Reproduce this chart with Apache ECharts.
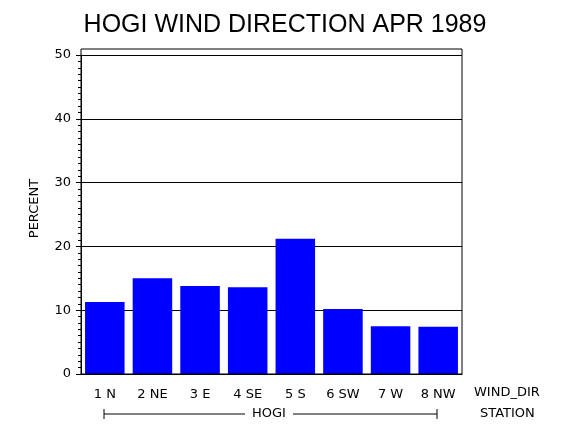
<!DOCTYPE html>
<html>
<head>
<meta charset="utf-8">
<script src="https://cdn.jsdelivr.net/npm/echarts@6/dist/echarts.min.js"></script>
<style>
  html, body { margin: 0; padding: 0; background: #fff; }
  #echart { width: 570px; height: 430px; }
</style>
</head>
<body>
<div id="echart"></div>
<script>
let echart = echarts.init(document.getElementById('echart'))

// 数据
let directions = ['1 N', '2 NE', '3 E', '4 SE', '5 S', '6 SW', '7 W', '8 NW']
let percents = [11.3, 15.0, 13.8, 13.6, 21.2, 10.2, 7.5, 7.4]
let yTicks = [0, 10, 20, 30, 40, 50]

let font = 'DejaVu Sans'

let option = {
    animation: false,
    title: {
        text: 'HOGI WIND DIRECTION APR 1989',
        left: 'center',
        top: 8,
        textStyle: {
            fontFamily: 'Liberation Sans',
            fontWeight: 'normal',
            fontSize: 25,
            color: '#000'
        }
    },
    grid: {
        left: 81,
        right: 108,
        top: 55,
        bottom: 56
    },
    xAxis: {
        type: 'category',
        data: directions,
        axisLine: { lineStyle: { color: '#000', width: 1 } },
        axisTick: { show: false },
        axisLabel: {
            color: '#000',
            fontFamily: font,
            fontSize: 13,
            margin: 14
        }
    },
    yAxis: {
        type: 'value',
        min: yTicks[0],
        max: yTicks[yTicks.length - 1],
        interval: 10,
        name: 'PERCENT',
        nameLocation: 'middle',
        nameRotate: 90,
        nameGap: 40,
        nameTextStyle: {
            color: '#000',
            fontFamily: font,
            fontSize: 13,
            padding: [0, 0, 0, 12]
        },
        axisLine: { show: true, lineStyle: { color: '#000' } },
        axisTick: { show: true, length: 5, lineStyle: { color: '#000' } },
        minorTick: { show: true, splitNumber: 10, length: 3, lineStyle: { color: '#000' } },
        splitLine: { show: true, lineStyle: { color: '#000', width: 1 } },
        axisLabel: {
            color: '#000',
            fontFamily: font,
            fontSize: 13,
            margin: 10
        }
    },
    graphic: [
        // 外框
        {
            type: 'rect',
            shape: { x: 81, y: 49, width: 381, height: 325 },
            style: { fill: 'none', stroke: '#000', lineWidth: 1 },
            z: 10
        },
        { type: 'text', left: 474, top: 386, style: { text: 'WIND_DIR', font: '13px "DejaVu Sans"', fill: '#000' } },
        { type: 'text', left: 480, top: 407, style: { text: 'STATION', font: '13px "DejaVu Sans"', fill: '#000' } },
        // HOGI 括号
        { type: 'line', shape: { x1: 104, y1: 414, x2: 245, y2: 414 }, style: { stroke: '#000' } },
        { type: 'line', shape: { x1: 293, y1: 414, x2: 437, y2: 414 }, style: { stroke: '#000' } },
        { type: 'line', shape: { x1: 104, y1: 409, x2: 104, y2: 419 }, style: { stroke: '#000' } },
        { type: 'line', shape: { x1: 437, y1: 409, x2: 437, y2: 419 }, style: { stroke: '#000' } },
        { type: 'text', left: 252, top: 407, style: { text: 'HOGI', font: '13px "DejaVu Sans"', fill: '#000' } }
    ],
    series: [
        {
            type: 'bar',
            data: percents,
            barCategoryGap: '17%',
            itemStyle: { color: '#0000ff' },
            z: 1
        }
    ]
};

echart.setOption(option);
</script>
</body>
</html>
